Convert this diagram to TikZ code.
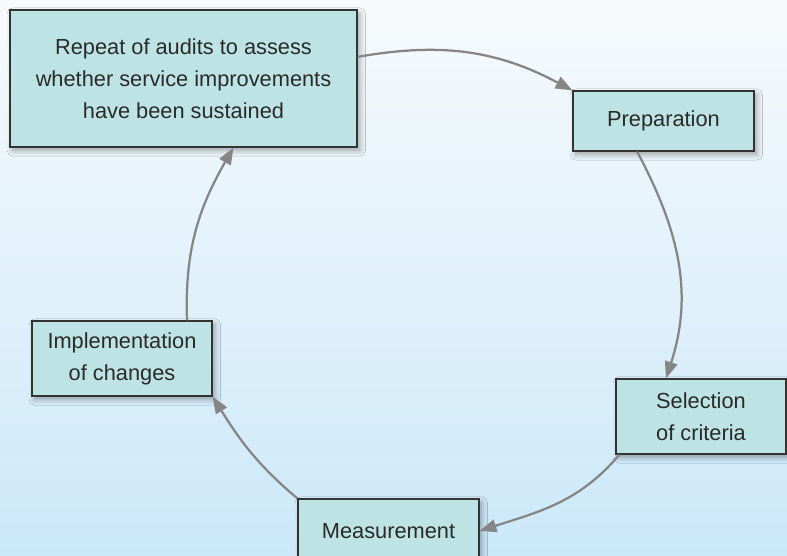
\documentclass[tikz,border=0pt]{standalone}
\usepackage{fontspec}
\setmainfont{Liberation Sans}
\usetikzlibrary{arrows.meta, shadows.blur}

\definecolor{boxfill}{HTML}{BDE3E5}
\definecolor{boxline}{HTML}{333333}
\definecolor{flowgray}{HTML}{858585}
\definecolor{inkgray}{HTML}{2A2A2A}
\definecolor{skytop}{HTML}{F7FAFC}
\definecolor{skybottom}{HTML}{CBE8F9}

\begin{document}
\begin{tikzpicture}[>={Triangle[length=12pt,width=9pt]},
    stage/.style={draw=boxline, fill=boxfill, line width=0.8pt, align=center,
        text=inkgray, font=\fontsize{15.5}{22.8}\selectfont, inner sep=0pt,
        blur shadow={shadow xshift=2pt, shadow yshift=-2.5pt, shadow blur steps=8,
            shadow blur radius=4pt, shadow opacity=35}},
    flow/.style={->, draw=flowgray, line width=1.6pt}]

    % page and background
    \clip (0,0) rectangle (19.675,13.875);
    \shade[top color=skytop, bottom color=skybottom] (0,0) rectangle (19.675,13.875);

    % the five stages of the cycle
    \node[stage, minimum width=8.675cm, minimum height=3.425cm] (repeat) at (4.5875,11.9125)
        {Repeat of audits to assess\\whether service improvements\\have been sustained};
    \node[stage, minimum width=4.525cm, minimum height=1.5cm] (prep) at (16.5875,10.85)
        {Preparation};
    \node[stage, minimum width=4.25cm, minimum height=1.875cm] (select) at (17.525,3.4625)
        {Selection\\of criteria};
    \node[stage, minimum width=4.525cm, minimum height=1.6cm] (measure) at (9.7125,0.6)
        {Measurement};
    \node[stage, minimum width=4.5cm, minimum height=1.875cm] (implement) at (3.05,4.9125)
        {Implementation\\of changes};

    % arrows round the circle
    \draw[flow] ([yshift=0.54cm]repeat.east) to[out=10, in=152] (prep.north west);
    \draw[flow] ([xshift=-0.66cm]prep.south) to[out=-62, in=72] ([xshift=-0.875cm]select.north);
    \draw[flow] ([xshift=0.1cm]select.south west) to[out=-130, in=18] (measure.east);
    \draw[flow] (measure.north west) to[out=140, in=-58] (implement.south east);
    \draw[flow] ([xshift=1.625cm]implement.north) to[out=92, in=-120] ([xshift=1.25cm]repeat.south);

\end{tikzpicture}
\end{document}
